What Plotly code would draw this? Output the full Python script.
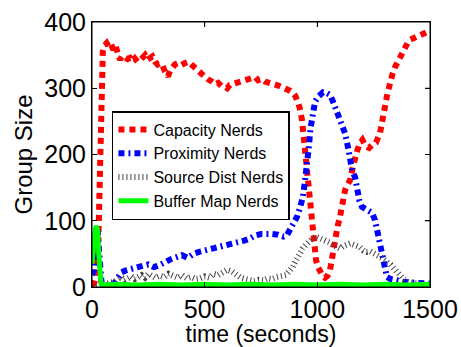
import plotly.graph_objects as go

# Capacity Nerds
cap_t = [0, 10, 18, 24, 28, 31, 35, 40, 44, 48, 55, 65, 75, 85, 95, 105, 115, 124, 135, 146, 158, 169, 180, 190, 202, 213, 224, 235, 246, 257, 268, 280, 291, 302, 313, 324, 337, 346, 355, 368, 381, 397, 413, 428, 444, 457, 470, 486, 501, 517, 533, 547, 560, 575, 590, 600, 612, 628, 644, 662, 679, 695, 710, 724, 737, 752, 768, 784, 799, 817, 834, 850, 866, 880, 892, 903, 914, 922, 932, 945, 955, 965, 972, 981, 994, 1003, 1012, 1023, 1034, 1045, 1056, 1067, 1078, 1090, 1100, 1112, 1123, 1135, 1145, 1157, 1167, 1178, 1189, 1200, 1215, 1230, 1245, 1260, 1278, 1290, 1300, 1311, 1322, 1334, 1345, 1356, 1367, 1378, 1389, 1400, 1411, 1422, 1433, 1445, 1456, 1467, 1478, 1489, 1500]
cap_v = [2, 6, 15, 35, 70, 110, 170, 250, 320, 355, 364, 368, 362, 366, 358, 364, 352, 343, 349, 347, 344, 346, 341, 345, 340, 342, 347, 350, 343, 345, 348, 340, 336, 338, 334, 325, 318, 326, 332, 336, 338, 335, 338, 340, 335, 332, 327, 322, 317, 313, 310, 306, 308, 303, 302, 300, 305, 307, 308, 311, 312, 313, 315, 317, 312, 314, 310, 309, 308, 305, 303, 301, 300, 296, 293, 288, 278, 270, 252, 207, 165, 140, 127, 80, 41, 30, 21, 17, 14, 17, 25, 50, 75, 92, 105, 128, 146, 155, 161, 180, 196, 207, 217, 222, 212, 210, 215, 218, 232, 250, 272, 292, 312, 322, 332, 340, 347, 355, 362, 368, 373, 375, 376, 378, 380, 382, 383, 385, 387]

# Proximity Nerds
prox_t = [0, 8, 15, 20, 25, 30, 35, 42, 55, 80, 100, 115, 130, 150, 175, 200, 225, 250, 275, 300, 325, 350, 375, 400, 425, 450, 475, 500, 525, 550, 575, 600, 625, 650, 675, 700, 725, 750, 775, 800, 825, 850, 865, 880, 895, 910, 925, 936, 945, 954, 962, 970, 980, 990, 1003, 1015, 1025, 1040, 1056, 1067, 1078, 1090, 1100, 1112, 1123, 1136, 1145, 1155, 1167, 1176, 1187, 1198, 1212, 1225, 1243, 1256, 1269, 1278, 1287, 1300, 1309, 1325, 1345, 1380, 1411, 1450, 1500]
prox_v = [18, 25, 60, 85, 88, 60, 25, 8, 3, 3, 6, 15, 22, 25, 28, 30, 32, 34, 30, 33, 38, 42, 45, 48, 44, 50, 53, 55, 56, 58, 60, 63, 66, 68, 70, 73, 78, 80, 81, 80, 79, 76, 78, 86, 95, 106, 122, 136, 160, 181, 210, 240, 267, 280, 287, 292, 294, 293, 290, 282, 272, 262, 252, 242, 232, 211, 192, 175, 166, 142, 130, 121, 118, 116, 112, 101, 81, 68, 56, 30, 15, 12, 10, 8, 7, 6, 5]

# Source Dist Nerds
src_t = [0, 30, 50, 80, 100, 115, 130, 145, 160, 175, 190, 205, 220, 235, 250, 265, 280, 300, 320, 340, 360, 380, 400, 420, 440, 460, 480, 500, 520, 540, 560, 580, 600, 620, 640, 660, 680, 700, 720, 740, 760, 780, 800, 820, 840, 860, 875, 890, 905, 920, 935, 950, 965, 980, 995, 1010, 1025, 1040, 1055, 1070, 1085, 1100, 1115, 1130, 1145, 1160, 1175, 1190, 1205, 1220, 1235, 1250, 1265, 1280, 1295, 1310, 1325, 1340, 1355, 1370, 1385, 1400, 1420, 1440, 1460, 1480, 1500]
src_v = [0, 2, 3, 5, 8, 12, 15, 10, 14, 16, 12, 15, 18, 14, 20, 17, 14, 17, 15, 20, 16, 14, 18, 13, 15, 12, 13, 16, 14, 20, 18, 22, 26, 24, 18, 14, 12, 10, 9, 11, 10, 13, 12, 15, 17, 18, 24, 30, 40, 50, 58, 64, 70, 74, 76, 74, 73, 70, 67, 63, 60, 58, 62, 64, 66, 64, 62, 60, 55, 53, 54, 52, 48, 45, 42, 38, 34, 28, 22, 15, 11, 8, 6, 5, 4, 3, 3]

# Buffer Map Nerds
buf_t = [0, 5, 10, 15, 20, 25, 30, 35, 40, 50, 100, 200, 300, 400, 500, 600, 700, 800, 900, 1000, 1100, 1200, 1300, 1400, 1500]
buf_v = [35, 55, 75, 88, 92, 85, 50, 15, 5, 3, 4, 3, 4, 3, 4, 3, 4, 3, 4, 3, 4, 3, 4, 3, 4]

names = ["Capacity Nerds", "Proximity Nerds", "Source Dist Nerds", "Buffer Map Nerds"]
x_ticks = [0, 500, 1000, 1500]
y_ticks = [0, 100, 200, 300, 400]

FONT = "Liberation Sans, Arial, Helvetica, sans-serif"

fig = go.Figure()
fig.add_trace(go.Scatter(x=cap_t, y=cap_v, mode="lines", name=names[0],
                         line=dict(color="#ff0000", width=6, dash="6px,5px")))
fig.add_trace(go.Scatter(x=prox_t, y=prox_v, mode="lines", name=names[1],
                         line=dict(color="#0000ff", width=6, dash="6px,4px,2px,4px")))
fig.add_trace(go.Scatter(x=src_t, y=src_v, mode="lines", name=names[2],
                         line=dict(color="#444444", width=6, dash="1px,3px")))
fig.add_trace(go.Scatter(x=buf_t, y=buf_v, mode="lines", name=names[3],
                         line=dict(color="#00ff00", width=5)))

axis_common = dict(showline=True, linecolor="#000000", linewidth=1, mirror="ticks",
                   ticks="inside", ticklen=5, tickwidth=1, tickcolor="#000000", showgrid=False,
                   zeroline=False, automargin=False,
                   tickfont=dict(family=FONT, size=25, color="black"))

fig.update_xaxes(range=[0, 1500], tickvals=x_ticks,
                 title=dict(text="time (seconds)", font=dict(family=FONT, size=23, color="black"), standoff=0),
                 **axis_common)
fig.update_yaxes(range=[0, 400], tickvals=y_ticks,
                 title=dict(text="Group Size", font=dict(family=FONT, size=24, color="black"), standoff=4),
                 **axis_common)

# Frame edges and mirrored ticks as single-segment line shapes
frame = [
    dict(type="line", xref="paper", yref="paper", x0=0, x1=1, y0=1, y1=1),
    dict(type="line", xref="paper", yref="paper", x0=1, x1=1, y0=0, y1=1),
    dict(type="line", xref="paper", yref="paper", x0=0, x1=1, y0=0, y1=0),
    dict(type="line", xref="paper", yref="paper", x0=0, x1=0, y0=0, y1=1),
]
frame += [dict(type="line", xref="x", yref="paper", x0=t, x1=t, y0=1, y1=1 - 5 / 265)
          for t in x_ticks[1:-1]]
frame += [dict(type="line", xref="paper", yref="y", x0=1, x1=1 - 5 / 338, y0=v, y1=v)
          for v in y_ticks[1:-1]]
for s in frame:
    s["line"] = dict(color="black", width=1)
    s["layer"] = "above"

fig.update_layout(
    width=461, height=347,
    margin=dict(l=92, r=31, t=22, b=60),
    paper_bgcolor="white", plot_bgcolor="white",
    font=dict(family=FONT, color="black"),
    legend=dict(x=0.059, y=0.664, xanchor="left", yanchor="top",
                bgcolor="white", bordercolor="black", borderwidth=1.5,
                font=dict(family=FONT, size=16, color="black"),
                tracegroupgap=0),
    showlegend=True,
    shapes=frame,
)

fig.write_html("out.html", config={"displayModeBar": False},
               post_script="document.body.style.margin='0px';document.body.style.overflow='hidden';")
